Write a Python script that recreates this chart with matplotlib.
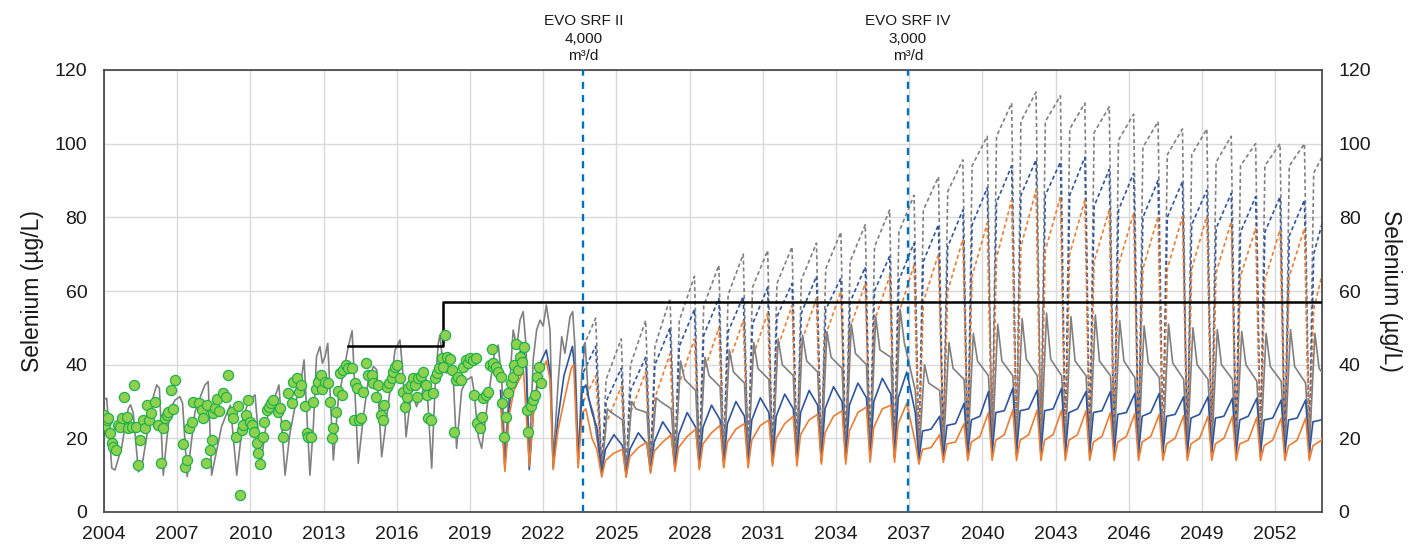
import numpy as np
import matplotlib
matplotlib.use("Agg")
import matplotlib.pyplot as plt

plt.rcParams['font.family'] = ['Liberation Sans', 'DejaVu Sans']

# ---------------- data ----------------
x_ticks = [2004, 2007, 2010, 2013, 2016, 2019, 2022, 2025, 2028, 2031, 2034, 2037, 2040, 2043, 2046, 2049, 2052]
y_ticks = [0, 20, 40, 60, 80, 100, 120]

# modelled historical (grey solid) before EVO SRF II
gray_hist = [
    (2004.00, 30.4), (2004.11, 30.9), (2004.32, 11.9), (2004.45, 11.4), (2004.59, 14.6), (2004.73, 17.7),
    (2004.86, 23.2), (2005.00, 28.2), (2005.09, 29.1), (2005.20, 26.8), (2005.41, 10.9), (2005.55, 12.3),
    (2005.75, 20.4), (2005.89, 26.8), (2006.02, 31.3), (2006.16, 34.5), (2006.27, 33.6), (2006.43, 10.0),
    (2006.57, 19.5), (2006.70, 27.7), (2006.91, 30.4), (2007.11, 31.3), (2007.22, 29.5), (2007.41, 9.6),
    (2007.59, 19.5), (2007.73, 27.2), (2007.86, 29.5), (2008.00, 32.2), (2008.14, 34.5), (2008.27, 35.4),
    (2008.41, 10.0), (2008.62, 16.8), (2008.82, 23.2), (2009.03, 26.8), (2009.18, 29.0), (2009.44, 10.0),
    (2009.57, 17.7), (2009.71, 25.9), (2009.85, 28.6), (2009.98, 30.4), (2010.19, 31.8), (2010.43, 13.0),
    (2010.67, 25.0), (2010.87, 29.5), (2011.01, 31.3), (2011.17, 34.5), (2011.42, 10.0), (2011.62, 21.4),
    (2011.83, 28.6), (2011.96, 32.7), (2012.10, 36.7), (2012.20, 41.3), (2012.44, 10.0), (2012.58, 23.2),
    (2012.71, 42.2), (2012.85, 44.9), (2012.95, 40.4), (2013.06, 42.2), (2013.17, 45.8), (2013.40, 14.1),
    (2013.60, 30.4), (2013.81, 37.7), (2014.01, 44.9), (2014.17, 49.2), (2014.42, 13.2), (2014.63, 25.9),
    (2014.83, 35.8), (2015.04, 39.5), (2015.18, 38.6), (2015.38, 15.0), (2015.59, 25.9), (2015.79, 36.7),
    (2015.93, 44.0), (2016.13, 46.7), (2016.24, 38.6), (2016.38, 20.4), (2016.54, 29.5), (2016.68, 31.3),
    (2016.81, 28.6), (2017.02, 32.0), (2017.22, 35.8), (2017.43, 11.9), (2017.57, 34.0), (2017.70, 45.8),
    (2017.77, 48.1), (2017.91, 38.6), (2018.04, 37.7), (2018.18, 39.5), (2018.31, 37.0), (2018.45, 17.3),
    (2018.66, 33.1), (2018.86, 35.8), (2019.07, 36.7), (2019.16, 33.1), (2019.34, 20.4), (2019.48, 17.3),
    (2019.68, 27.7), (2019.89, 37.7), (2020.02, 44.0), (2020.16, 45.3), (2020.30, 35.8), (2020.43, 15.9),
    (2020.64, 35.8), (2020.77, 49.4), (2020.92, 44.9), (2021.05, 52.1), (2021.18, 54.4), (2021.30, 44.9),
    (2021.43, 14.1), (2021.59, 41.3), (2021.73, 49.4), (2021.87, 52.1), (2022.00, 50.5), (2022.13, 56.2),
    (2022.28, 49.4), (2022.41, 13.7), (2022.62, 35.8), (2022.76, 47.6), (2022.89, 43.1), (2023.10, 53.0),
    (2023.21, 54.4), (2023.30, 44.9), (2023.44, 13.2), (2023.58, 37.7), (2023.72, 46.0), (2023.85, 31.0),
    (2024.05, 27.0),
]
blue_hist = [
    (2020.25, 33.0), (2020.43, 12.0), (2020.60, 28.0), (2020.80, 39.0), (2021.00, 42.0), (2021.15, 46.0),
    (2021.30, 40.0), (2021.43, 11.5), (2021.60, 27.0), (2021.85, 40.0), (2022.13, 44.0), (2022.28, 38.0),
    (2022.41, 12.0), (2022.60, 25.0), (2022.85, 37.0), (2023.20, 45.0), (2023.30, 38.0), (2023.43, 13.5),
    (2023.60, 33.0), (2023.75, 34.5), (2024.00, 27.0), (2024.20, 23.0),
]
orange_hist = [
    (2020.25, 30.0), (2020.43, 11.0), (2020.60, 26.0), (2020.80, 33.0), (2021.10, 37.0), (2021.20, 38.0),
    (2021.43, 12.5), (2021.60, 27.0), (2021.85, 37.0), (2022.13, 41.0), (2022.28, 36.0), (2022.41, 11.5),
    (2022.60, 22.0), (2022.85, 30.0), (2023.15, 39.0), (2023.25, 40.0), (2023.43, 12.0), (2023.60, 27.0),
    (2023.75, 28.0), (2024.00, 20.0), (2024.20, 17.0),
]
# start of the dashed scenarios at EVO SRF II
gray_dash_start = [(2023.65, 45.0), (2024.15, 52.6)]
blue_dash_start = [(2023.65, 38.0), (2024.15, 45.0)]
orange_dash_start = [(2023.65, 30.0), (2024.15, 37.0)]

# projection years (one freshet cycle per year)
cycle_years = list(range(2024, 2054))

# grey solid: dip, spike, shoulder, pre-freshet
gs_dip = [11, 10, 12, 13, 13, 13, 14, 14, 14, 14, 15, 15, 15, 15, 16, 16, 17, 17, 17, 17, 17, 17, 17, 17, 17, 17, 17, 17, 17, 17]
gs_spike = [28, 30, 31, 41, 42, 44, 46, 47, 48, 49, 51, 53, 55, 40, 46, 48.5, 51, 52.5, 54, 53, 53.5, 52, 50.5, 51, 50, 49.5, 49, 48.5, 49.5, 48.5]
gs_shoulder = [27, 28, 30, 36, 37, 38, 39, 40, 41, 42, 43, 44, 46, 35, 39, 41, 41, 41.5, 41.5, 41, 41, 41, 40.5, 40.5, 40, 40, 40, 39.5, 39.5, 39]
gs_pre = [25, 27, 28, 33, 34, 35, 36, 37, 38, 39, 40, 42, 33, 33, 36, 37, 37, 37, 37, 37, 37, 36.5, 36.5, 36, 36, 36, 35.5, 35.5, 35, 35]

# blue solid: dip, early, mid, pre-freshet
bs_dip = [10.5, 10, 11, 12, 12.5, 13, 13, 13.5, 14, 14, 14.5, 15, 15, 14, 15, 16, 16, 16, 16, 16, 16, 16, 16, 16, 16, 16, 16, 16, 16, 16]
bs_early = [17, 17, 19, 21, 23, 24, 25, 26, 27, 28, 29, 30, 31, 22, 23.5, 25, 27, 27.5, 27.5, 27, 27, 26.5, 26, 26, 25.5, 25.5, 25, 25, 25, 24.5]
bs_mid = [21, 21.5, 24.5, 27, 29, 30, 31, 32, 33, 34, 35, 36.3, 38, 22.5, 24, 26, 27.5, 28, 28, 28, 27.5, 27, 27, 26.5, 26.5, 26, 26, 25.5, 25.5, 25]
bs_pre = [18, 18.5, 21, 23, 25, 26, 27, 28, 29, 30, 31, 32, 27, 26, 29.5, 32.7, 33.6, 33.1, 33.6, 32.7, 32.7, 32.2, 32.2, 31.3, 31.3, 30.9, 30.9, 30.4, 30.4, 30]

# orange solid: dip, early, mid, pre-freshet
os_dip = [9.5, 9.5, 10.5, 11, 11.5, 12, 12, 12.5, 12.5, 13, 13, 13.5, 13.5, 13, 13.5, 14, 14, 14, 14, 14, 14, 14, 14, 14, 14, 14, 14, 14, 14, 14]
os_early = [14, 15, 16.5, 17.5, 18.5, 19, 19.5, 20, 21, 21.5, 22, 23, 24, 17, 18.5, 19, 19.5, 19.5, 19.5, 19.5, 19, 19, 19, 18.5, 18.5, 18.5, 18.5, 18, 18, 18]
os_mid = [16, 17.5, 19, 20.5, 21.5, 22.5, 23.5, 24, 25, 26, 27, 28, 29.5, 17.5, 19, 20.5, 21, 21, 21, 21, 20.5, 20.5, 20.5, 20, 20, 20, 19.5, 19.5, 19.5, 19.5]
os_pre = [17, 19, 21, 22.5, 23.5, 24, 25, 26, 26.5, 27.5, 28.5, 29, 19, 21, 24, 27, 27.7, 27.7, 27.7, 27.5, 27, 26.7, 26.5, 26.2, 26, 26, 25.7, 25.5, 25.5, 25.5]

# dashed scenarios: dip, rise, peak
gd_dip = [11.5, 10.5, 12.5, 13.5, 13.5, 14, 14.5, 14.5, 15, 15, 15.5, 15.5, 16, 16, 16.5, 17, 17, 17, 17, 17, 17, 17, 17, 17, 17, 17, 17, 17, 17, 17]
gd_rise = [36, 40, 45, 52, 56, 59, 61, 62, 63, 66, 68, 72, 76, 82, 87, 94, 102, 106, 106, 104, 103, 101, 99, 97, 97, 95, 94, 94, 94, 92]
gd_peak = [47, 52, 58, 64, 67, 70, 71, 72, 73, 76, 78, 82, 86, 91, 95.6, 102, 111, 114, 113, 111, 110, 108, 106, 104, 104, 102, 100, 100, 100, 100]

bd_dip = [11, 10, 12, 13, 13, 13.5, 14, 14, 14.5, 14.5, 15, 15, 15.5, 15, 16, 16, 16, 16, 16, 16, 16, 16, 16, 16, 16, 16, 16, 16, 16, 16]
bd_rise = [30, 33, 40, 45, 48, 49, 51, 53, 54, 55, 57, 60, 63, 68, 72, 78, 84, 86, 86, 86, 83, 82, 80, 80, 78, 77, 76, 76, 75, 70]
bd_peak = [39, 42, 50, 55, 58, 58.5, 61, 62, 64, 63.5, 66.5, 69.5, 73, 78, 82, 88, 94, 95.6, 95, 96.3, 93, 92, 90, 89.7, 87.4, 86.5, 85.6, 85.6, 84.7, 85]

od_dip = [10, 9.5, 11, 12, 12, 12.5, 13, 13, 13.5, 13.5, 14, 14, 14.5, 14, 14.5, 15, 15, 15, 15, 15, 15, 15, 15, 15, 15, 15, 15, 15, 15, 15]
od_rise = [24, 27, 31, 35, 38, 40, 42, 44, 46, 48, 50, 52, 54, 57, 60, 64, 69, 72, 71, 70, 68, 67, 66, 66, 66, 65, 64, 63, 64, 55]
od_peak = [34, 38, 43, 47, 50, 52, 54, 56, 58, 60, 62, 64, 67, 70, 74, 78.4, 84.7, 87.4, 85.6, 84.7, 82, 81.1, 80.2, 80.2, 80.2, 78.8, 77, 76.6, 77, 72]

# observed selenium (green markers)
observed = [
    (2004.00, 26.3), (2004.04, 23.6), (2004.11, 25.0), (2004.18, 25.4), (2004.25, 21.4), (2004.32, 18.7),
    (2004.38, 17.7), (2004.49, 16.8), (2004.59, 23.6), (2004.66, 23.2), (2004.73, 25.4), (2004.82, 31.3),
    (2004.93, 25.9), (2005.00, 22.7), (2005.13, 23.2), (2005.24, 34.5), (2005.31, 23.2), (2005.41, 12.8),
    (2005.48, 19.5), (2005.59, 25.0), (2005.68, 22.7), (2005.75, 29.1), (2005.86, 25.0), (2005.91, 26.8),
    (2006.09, 30.0), (2006.23, 23.6), (2006.32, 13.4), (2006.40, 22.7), (2006.50, 25.4), (2006.57, 26.3),
    (2006.64, 27.2), (2006.73, 33.1), (2006.81, 27.9), (2006.91, 35.8), (2007.25, 18.5), (2007.32, 12.3),
    (2007.41, 14.1), (2007.50, 22.9), (2007.59, 24.3), (2007.66, 29.8), (2007.91, 29.5), (2008.00, 27.7),
    (2008.07, 25.4), (2008.18, 13.4), (2008.23, 29.1), (2008.34, 16.8), (2008.43, 19.5), (2008.48, 26.8),
    (2008.55, 28.2), (2008.64, 30.6), (2008.73, 27.4), (2008.89, 32.2), (2009.00, 31.3), (2009.09, 37.2),
    (2009.23, 27.2), (2009.30, 25.4), (2009.41, 20.4), (2009.50, 28.8), (2009.57, 4.6), (2009.64, 22.3),
    (2009.71, 23.6), (2009.82, 26.3), (2009.91, 30.4), (2009.98, 24.5), (2010.05, 23.6), (2010.16, 21.8),
    (2010.26, 18.7), (2010.32, 16.1), (2010.41, 13.0), (2010.50, 20.3), (2010.57, 24.5), (2010.67, 27.7),
    (2010.76, 28.6), (2010.84, 29.5), (2010.91, 30.4), (2011.14, 27.2), (2011.21, 28.2), (2011.32, 20.4),
    (2011.42, 23.6), (2011.55, 32.2), (2011.69, 29.5), (2011.76, 35.4), (2011.90, 36.3), (2011.99, 32.7),
    (2012.07, 34.5), (2012.24, 28.8), (2012.31, 21.4), (2012.37, 20.4), (2012.48, 20.4), (2012.58, 30.0),
    (2012.68, 33.3), (2012.78, 35.4), (2012.89, 37.2), (2012.95, 33.3), (2013.06, 35.4), (2013.17, 35.1),
    (2013.26, 30.0), (2013.33, 20.0), (2013.40, 22.7), (2013.51, 27.2), (2013.60, 32.9), (2013.67, 37.7),
    (2013.74, 31.8), (2013.81, 38.6), (2013.91, 39.9), (2014.01, 39.0), (2014.15, 39.0), (2014.26, 25.0),
    (2014.29, 34.9), (2014.36, 33.6), (2014.46, 25.0), (2014.52, 25.4), (2014.63, 32.7), (2014.74, 40.5),
    (2014.83, 37.2), (2014.97, 37.2), (2015.04, 34.9), (2015.15, 31.3), (2015.24, 34.5), (2015.34, 26.3),
    (2015.42, 25.0), (2015.49, 29.1), (2015.59, 34.0), (2015.69, 34.9), (2015.79, 36.3), (2015.86, 38.1),
    (2015.93, 39.5), (2016.00, 39.9), (2016.13, 36.3), (2016.24, 32.7), (2016.34, 28.6), (2016.40, 31.3),
    (2016.47, 33.6), (2016.57, 34.5), (2016.65, 36.3), (2016.75, 34.5), (2016.81, 31.3), (2016.88, 36.3),
    (2016.98, 36.9), (2017.09, 38.1), (2017.20, 34.5), (2017.25, 31.8), (2017.29, 25.4), (2017.39, 25.0),
    (2017.50, 32.2), (2017.57, 36.3), (2017.66, 37.7), (2017.74, 39.0), (2017.84, 41.7), (2017.91, 39.5),
    (2017.99, 48.1), (2018.07, 42.0), (2018.18, 41.5), (2018.25, 38.6), (2018.34, 21.8), (2018.43, 35.8),
    (2018.52, 36.7), (2018.63, 35.8), (2018.73, 39.5), (2018.82, 41.3), (2018.93, 40.4), (2019.00, 41.7),
    (2019.11, 41.3), (2019.16, 31.8), (2019.25, 41.7), (2019.30, 24.1), (2019.41, 22.7), (2019.48, 25.9),
    (2019.55, 30.9), (2019.66, 31.8), (2019.75, 32.7), (2019.82, 39.9), (2019.89, 44.2), (2019.93, 39.5),
    (2019.96, 40.4), (2020.07, 39.3), (2020.16, 38.1), (2020.26, 36.7), (2020.30, 29.5), (2020.41, 20.4),
    (2020.48, 25.9), (2020.57, 32.2), (2020.67, 34.9), (2020.75, 36.7), (2020.80, 39.9), (2020.89, 45.6),
    (2020.98, 38.6), (2021.05, 42.0), (2021.12, 40.8), (2021.21, 44.9), (2021.32, 27.7), (2021.39, 21.8),
    (2021.49, 28.8), (2021.57, 30.4), (2021.66, 31.8), (2021.73, 36.7), (2021.83, 39.3), (2021.90, 35.1),
]

# benchmark step line
bench_t = [2014.0, 2017.9, 2017.9, 2053.92]
bench_v = [45, 45, 57, 57]

# treatment events
events_t = [2023.65, 2036.95]
events_label = ["EVO SRF II\n4,000\nm³/d", "EVO SRF IV\n3,000\nm³/d"]


# ---------------- build polylines ----------------
def cycles(years, phases, values):
    t, v = [], []
    for i, y in enumerate(years):
        for ph, arr in zip(phases, values):
            t.append(y + ph)
            v.append(arr[i])
    return t, v


def join(hist, fut):
    ht = [p[0] for p in hist]
    hv = [p[1] for p in hist]
    return np.array(ht + fut[0]), np.array(hv + fut[1])


gs = join(gray_hist, cycles(cycle_years, [0.40, 0.63, 0.80, 1.25], [gs_dip, gs_spike, gs_shoulder, gs_pre]))
bs = join(blue_hist, cycles(cycle_years, [0.40, 0.55, 0.90, 1.25], [bs_dip, bs_early, bs_mid, bs_pre]))
osr = join(orange_hist, cycles(cycle_years, [0.40, 0.55, 0.90, 1.25], [os_dip, os_early, os_mid, os_pre]))
gd = join(gray_dash_start, cycles(cycle_years, [0.40, 0.58, 1.20], [gd_dip, gd_rise, gd_peak]))
bd = join(blue_dash_start, cycles(cycle_years, [0.40, 0.58, 1.20], [bd_dip, bd_rise, bd_peak]))
od = join(orange_dash_start, cycles(cycle_years, [0.40, 0.58, 1.20], [od_dip, od_rise, od_peak]))

GRAY = '#808080'
BLUE = '#2F55A0'
ORANGE = '#ED7D31'

# ---------------- figure ----------------
fig = plt.figure(figsize=(14.08, 5.5), dpi=100)
ax = fig.add_axes([104 / 1408, 1 - 512 / 550, (1322 - 104) / 1408, (512 - 70) / 550])

dash = (2.4, 1.7)
ax.plot(gd[0], gd[1], color=GRAY, lw=1.2, dashes=dash, zorder=2)
ax.plot(bd[0], bd[1], color=BLUE, lw=1.2, dashes=dash, zorder=2)
ax.plot(od[0], od[1], color=ORANGE, lw=1.2, dashes=dash, zorder=2)
ax.plot(gs[0], gs[1], color=GRAY, lw=1.2, zorder=3)
ax.plot(bs[0], bs[1], color=BLUE, lw=1.2, zorder=3)
ax.plot(osr[0], osr[1], color=ORANGE, lw=1.2, zorder=3)

ax.plot(bench_t, bench_v, color='black', lw=1.8, zorder=4)

ot = [p[0] for p in observed]
ov = [p[1] for p in observed]
ax.plot(ot, ov, linestyle='none', marker='o', ms=7.3, mfc='#8FD14F', mec='#1DB14B', mew=0.9, zorder=6)

for t, lab in zip(events_t, events_label):
    ax.axvline(t, color='#0070C0', lw=1.7, dashes=(3.0, 2.6), zorder=5)
    ax.annotate(lab, xy=(t, 1.0), xycoords=('data', 'axes fraction'), xytext=(0, 5),
                textcoords='offset points', ha='center', va='bottom', fontsize=11,
                linespacing=1.3, color='#1a1a1a')

ax.set_xlim(2004, 2053.92)
ax.set_ylim(0, 120)
ax.set_xticks(x_ticks)
ax.set_xticklabels([str(x) for x in x_ticks])
ax.set_yticks(y_ticks)
ax.grid(True, color='#D9D9D9', lw=1.0, zorder=0)
ax.set_axisbelow(True)
ax.tick_params(axis='both', length=0, labelsize=14, colors='#1a1a1a')
ax.tick_params(axis='y', pad=12)
ax.tick_params(axis='x', pad=10)
for s in ax.spines.values():
    s.set_color('#404040')
    s.set_linewidth(1.2)
ax.set_ylabel('Selenium (µg/L)', fontsize=16.5, labelpad=8, color='#1a1a1a')

ax2 = ax.twinx()
ax2.set_ylim(0, 120)
ax2.set_yticks(y_ticks)
ax2.tick_params(axis='y', length=0, labelsize=14, pad=12, colors='#1a1a1a')
for s in ax2.spines.values():
    s.set_visible(False)
ax2.set_ylabel('Selenium (µg/L)', fontsize=16.5, rotation=270, labelpad=22, color='#1a1a1a')

fig.savefig('out.png', dpi=100)
